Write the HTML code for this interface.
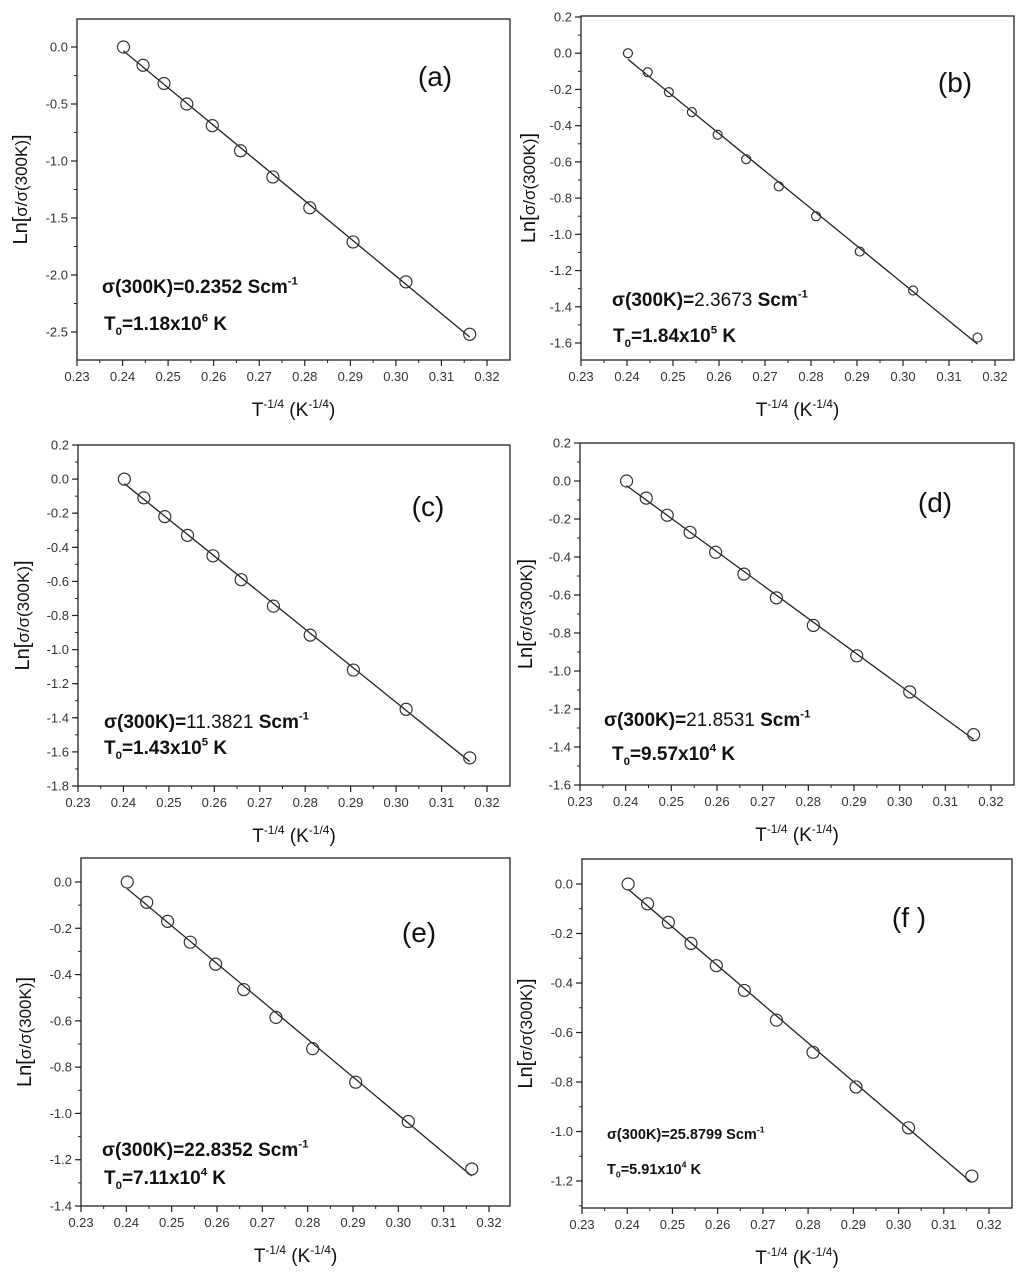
<!DOCTYPE html>
<html><head><meta charset="utf-8">
<style>
html,body{margin:0;padding:0;background:#fff;}
svg{display:block;font-family:"Liberation Sans",Arial,sans-serif;}
</style></head>
<body>
<svg id="fig" width="1024" height="1274" viewBox="0 0 1024 1274"></svg>
<script>
const xValues = [0.2402,0.2445,0.2491,0.2541,0.2597,0.2659,0.2730,0.2811,0.2906,0.3022,0.3162];
const seriesA = [0,-0.16,-0.32,-0.5,-0.69,-0.91,-1.14,-1.41,-1.71,-2.06,-2.52];
const seriesB = [0,-0.105,-0.215,-0.325,-0.45,-0.585,-0.735,-0.9,-1.095,-1.31,-1.57];
const seriesC = [0,-0.11,-0.22,-0.33,-0.45,-0.59,-0.745,-0.915,-1.12,-1.35,-1.635];
const seriesD = [0,-0.09,-0.18,-0.27,-0.375,-0.49,-0.615,-0.76,-0.92,-1.11,-1.335];
const seriesE = [0,-0.088,-0.17,-0.26,-0.355,-0.465,-0.585,-0.72,-0.865,-1.035,-1.24];
const seriesF = [0,-0.08,-0.155,-0.24,-0.33,-0.43,-0.55,-0.68,-0.82,-0.985,-1.18];
const xTicks = [0.23,0.24,0.25,0.26,0.27,0.28,0.29,0.30,0.31,0.32];
const yTicksA = [0.0,-0.5,-1.0,-1.5,-2.0,-2.5];
const yTicksB = [0.2,0.0,-0.2,-0.4,-0.6,-0.8,-1.0,-1.2,-1.4,-1.6];
const yTicksC = [0.2,0.0,-0.2,-0.4,-0.6,-0.8,-1.0,-1.2,-1.4,-1.6,-1.8];
const yTicksD = [0.2,0.0,-0.2,-0.4,-0.6,-0.8,-1.0,-1.2,-1.4,-1.6];
const yTicksE = [0.0,-0.2,-0.4,-0.6,-0.8,-1.0,-1.2,-1.4];
const yTicksF = [0.0,-0.2,-0.4,-0.6,-0.8,-1.0,-1.2];
const panelLabels = ["(a)","(b)","(c)","(d)","(e)","(f )"];
const sigmaValues = ["0.2352","2.3673","11.3821","21.8531","22.8352","25.8799"];
const t0Mantissa = ["1.18","1.84","1.43","9.57","7.11","5.91"];
const t0Exp = ["6","5","5","4","4","4"];

const NS="http://www.w3.org/2000/svg";
const svg=document.getElementById('fig');
function mk(tag,attrs,parent,text){const e=document.createElementNS(NS,tag);for(const k in attrs)e.setAttribute(k,attrs[k]);if(text!==undefined)e.textContent=text;(parent||svg).appendChild(e);return e;}

const panels=[
 {id:'a',ys:seriesA,yt:yTicksA,fr:[77,19,510,360],xm:[77,487],yv:[0,-2.5],ym:[47,332],r:6,lab:[435,86],sig:[102,293,19,true],t0:[104,330],yTitleX:20},
 {id:'b',ys:seriesB,yt:yTicksB,fr:[581,16,1014,360],xm:[581,995],yv:[0.2,-1.6],ym:[17,343],r:4.5,lab:[955,92],sig:[612,306,19,false],t0:[613,342],yTitleX:528},
 {id:'c',ys:seriesC,yt:yTicksC,fr:[78,445,510,786],xm:[78,487],yv:[0.2,-1.8],ym:[445,786],r:6,lab:[428,516],sig:[104,728,19,false],t0:[104,754],yTitleX:22},
 {id:'d',ys:seriesD,yt:yTicksD,fr:[580,443,1014,785],xm:[580,991],yv:[0.2,-1.6],ym:[443,785],r:6,lab:[935,512],sig:[604,726,19,false],t0:[612,760],yTitleX:525},
 {id:'e',ys:seriesE,yt:yTicksE,fr:[81,858,510,1206],xm:[81,489],yv:[0,-1.4],ym:[882,1206],r:6,lab:[419,942],sig:[102,1156,19,true],t0:[104,1184],yTitleX:24},
 {id:'f',ys:seriesF,yt:yTicksF,fr:[582,859,1012,1208],xm:[582,989],yv:[0,-1.2],ym:[884,1181],r:6,lab:[909,927],sig:[607,1139,14.5,true],t0:[607,1174],yTitleX:525}
];

panels.forEach((p,pi)=>{
 const g=mk('g',{});
 
 
 const X=v=>p.xm[0]+(v-0.23)/(0.32-0.23)*(p.xm[1]-p.xm[0]);
 const Y=v=>p.ym[0]+(v-p.yv[0])/(p.yv[1]-p.yv[0])*(p.ym[1]-p.ym[0]);
 const [L,T,R,B]=p.fr;
 const frame=mk('rect',{x:L,y:T,width:R-L,height:B-T,fill:'none',stroke:'#222','stroke-width':1.3},g);
 
 
 xTicks.forEach((t,i)=>{
  const x=X(t);
  mk('line',{x1:x,y1:B,x2:x,y2:B+6,stroke:'#222','stroke-width':1.2},g);
  if(i<xTicks.length-1){const xm=X(t+0.005);mk('line',{x1:xm,y1:B,x2:xm,y2:B+3,stroke:'#222','stroke-width':1},g);}
  const tl=mk('text',{x:x,y:B+21,'font-size':13,'text-anchor':'middle',fill:'#333'},g,t.toFixed(2));
  
  
 });
 const step=p.yt[0]-p.yt[1];
 p.yt.forEach((t,i)=>{
  const y=Y(t);
  mk('line',{x1:L-6,y1:y,x2:L,y2:y,stroke:'#222','stroke-width':1.2},g);
  const tl=mk('text',{x:L-9,y:y+4.5,'font-size':13,'text-anchor':'end',fill:'#333'},g,t.toFixed(1));
  
  
 });
 for(let v=p.yt[0]+step;v>=p.yt[p.yt.length-1]-step-1e-9;v-=step/2){
  const y=Y(v); if(y>T+1&&y<B-1) mk('line',{x1:L-3,y1:y,x2:L,y2:y,stroke:'#222','stroke-width':1},g);
 }
 const n=xValues.length;let sx=0,sy=0,sxx=0,sxy=0;
 for(let i=0;i<n;i++){sx+=xValues[i];sy+=p.ys[i];sxx+=xValues[i]**2;sxy+=xValues[i]*p.ys[i];}
 const m=(n*sxy-sx*sy)/(n*sxx-sx*sx),b=(sy-m*sx)/n;
 const x0=xValues[0],x1=xValues[n-1];
 const fl=mk('line',{x1:X(x0),y1:Y(m*x0+b),x2:X(x1),y2:Y(m*x1+b),stroke:'#222','stroke-width':1.3},g);
 
 
 xValues.forEach((xv,i)=>{
  const c=mk('circle',{cx:X(xv),cy:Y(p.ys[i]),r:p.r,fill:'none',stroke:'#333','stroke-width':1.2},g);
  
  
 });
 const pl=mk('text',{x:p.lab[0],y:p.lab[1],'font-size':28,'text-anchor':'middle',fill:'#111'},g,panelLabels[pi]);
 
 
 const fs=p.sig[2];
 const s=mk('text',{x:p.sig[0],y:p.sig[1],'font-size':fs,'font-weight':'bold',fill:'#111'},g);
 
 
 mk('tspan',{},s,'σ(300K)=');
 mk('tspan',{'font-weight':p.sig[3]?'bold':'normal'},s,sigmaValues[pi]);
 mk('tspan',{},s,' Scm');
 mk('tspan',{dy:-fs*0.45,'font-size':fs*0.6},s,'-1');
 const t=mk('text',{x:p.t0[0],y:p.t0[1],'font-size':fs,'font-weight':'bold',fill:'#111'},g);
 
 
 mk('tspan',{},t,'T');
 mk('tspan',{dy:fs*0.25,'font-size':fs*0.6},t,'0');
 mk('tspan',{dy:-fs*0.25},t,'='+t0Mantissa[pi]+'x10');
 mk('tspan',{dy:-fs*0.45,'font-size':fs*0.6},t,t0Exp[pi]);
 mk('tspan',{dy:fs*0.45},t,' K');
 const xt=mk('text',{x:(L+R)/2,y:B+56,'font-size':19,'text-anchor':'middle',fill:'#111'},g);
 
 
 mk('tspan',{},xt,'T');
 mk('tspan',{dy:-8,'font-size':12},xt,'-1/4');
 mk('tspan',{dy:8},xt,' (K');
 mk('tspan',{dy:-8,'font-size':12},xt,'-1/4');
 mk('tspan',{dy:8},xt,')');
 const cy=(T+B)/2;
 const yt=mk('text',{x:p.yTitleX+7,y:cy,'font-size':20,'text-anchor':'middle',fill:'#111',transform:`rotate(-90 ${p.yTitleX+7} ${cy})`},g);
 
 
 mk('tspan',{},yt,'Ln[');
 mk('tspan',{'font-size':17},yt,'σ/σ(300K)');
 mk('tspan',{},yt,']');
});
</script>
</body></html>
